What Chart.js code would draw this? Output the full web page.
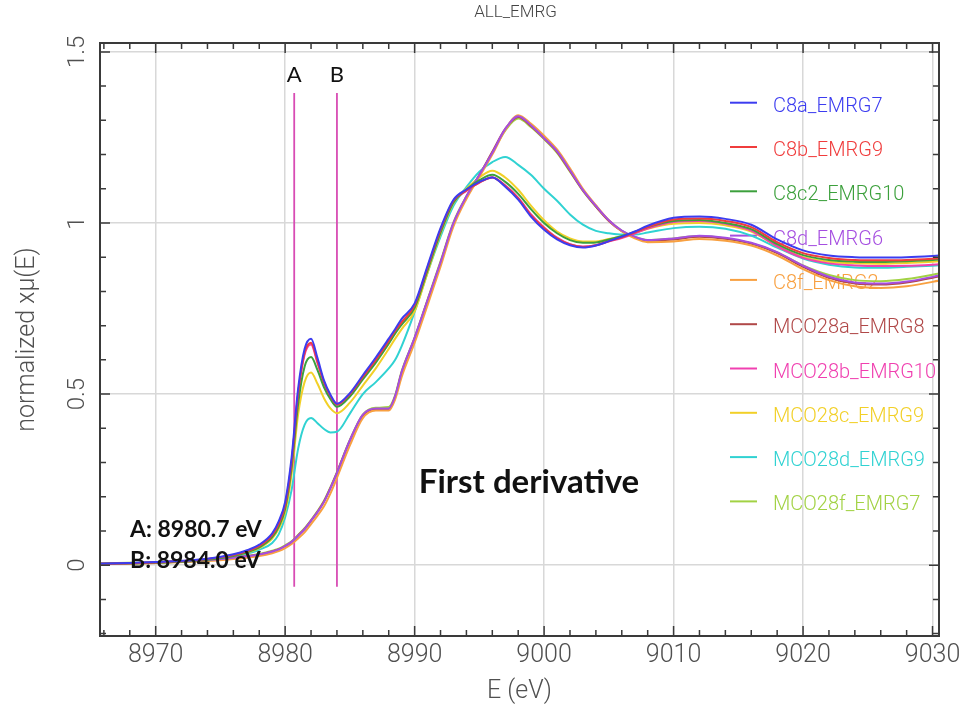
<!DOCTYPE html>
<html>
<head>
<meta charset="utf-8">
<title>ALL_EMRG</title>
<script src="https://cdn.jsdelivr.net/npm/chart.js@4.4.1/dist/chart.umd.min.js"></script>
<style>
  html, body { margin: 0; padding: 0; background: #fff; }
  #chart { display: block; }
</style>
</head>
<body>
<canvas id="chart" width="969" height="711"></canvas>
<script>
// energy grid (eV) shared by every spectrum
const energy = [8965.5, 8970, 8974, 8976, 8977, 8978, 8979, 8979.5, 8980, 8980.5,
  8981, 8981.5, 8982, 8982.5, 8983, 8983.5, 8984, 8985, 8986, 8987,
  8988, 8988.5, 8989, 8990, 8991, 8992, 8993, 8994, 8995, 8996,
  8997, 8998, 8999, 9000, 9001, 9002, 9003, 9004, 9005, 9006,
  9007, 9008, 9010, 9012, 9014, 9016, 9018, 9020, 9022, 9024,
  9026, 9028, 9031];

// normalized mu(E) per sample
const c8a = [0.004, 0.009, 0.019, 0.032, 0.043, 0.06, 0.093, 0.128, 0.185, 0.315,
  0.515, 0.632, 0.662, 0.605, 0.54, 0.498, 0.472, 0.503, 0.555, 0.607,
  0.662, 0.69, 0.72, 0.765, 0.875, 0.985, 1.068, 1.098, 1.12, 1.133,
  1.106, 1.068, 1.018, 0.98, 0.952, 0.935, 0.928, 0.934, 0.947, 0.96,
  0.975, 0.992, 1.015, 1.019, 1.012, 0.995, 0.952, 0.92, 0.905, 0.9,
  0.899, 0.9, 0.906];
const c8b = [0.004, 0.008, 0.018, 0.03, 0.04, 0.056, 0.088, 0.12, 0.175, 0.3,
  0.5, 0.62, 0.65, 0.595, 0.535, 0.495, 0.47, 0.5, 0.55, 0.6,
  0.655, 0.685, 0.71, 0.76, 0.87, 0.98, 1.065, 1.095, 1.118, 1.133,
  1.108, 1.072, 1.022, 0.985, 0.955, 0.937, 0.93, 0.935, 0.947, 0.958,
  0.972, 0.988, 1.01, 1.013, 1.006, 0.988, 0.944, 0.912, 0.898, 0.892,
  0.891, 0.892, 0.898];
const c8c2 = [0.004, 0.007, 0.016, 0.027, 0.037, 0.052, 0.082, 0.112, 0.165, 0.285,
  0.47, 0.58, 0.608, 0.57, 0.52, 0.485, 0.463, 0.493, 0.543, 0.592,
  0.647, 0.677, 0.703, 0.752, 0.862, 0.972, 1.06, 1.098, 1.125, 1.141,
  1.12, 1.085, 1.04, 1.0, 0.97, 0.95, 0.942, 0.943, 0.952, 0.962,
  0.974, 0.988, 1.006, 1.009, 1.0, 0.982, 0.938, 0.906, 0.892, 0.887,
  0.886, 0.888, 0.894];
const c8d = [0.004, 0.008, 0.015, 0.022, 0.026, 0.031, 0.04, 0.046, 0.056, 0.068,
  0.086, 0.105, 0.13, 0.155, 0.185, 0.225, 0.27, 0.365, 0.44, 0.458,
  0.458, 0.495, 0.565, 0.665, 0.775, 0.885, 1.0, 1.078, 1.14, 1.205,
  1.275, 1.312, 1.285, 1.248, 1.21, 1.154, 1.096, 1.05, 1.008, 0.978,
  0.96, 0.95, 0.955, 0.963, 0.957, 0.942, 0.915, 0.875, 0.843, 0.826,
  0.823, 0.829, 0.85];
const c8f = [0.003, 0.006, 0.012, 0.018, 0.022, 0.027, 0.035, 0.041, 0.05, 0.062,
  0.078, 0.096, 0.12, 0.145, 0.172, 0.21, 0.255, 0.35, 0.43, 0.452,
  0.452, 0.485, 0.55, 0.65, 0.76, 0.872, 0.99, 1.07, 1.135, 1.2,
  1.272, 1.315, 1.29, 1.255, 1.215, 1.16, 1.1, 1.052, 1.008, 0.976,
  0.955, 0.944, 0.946, 0.953, 0.948, 0.934, 0.905, 0.865, 0.833, 0.815,
  0.81, 0.815, 0.835];
const mco28a = [0.004, 0.008, 0.015, 0.022, 0.026, 0.031, 0.04, 0.046, 0.056, 0.068,
  0.087, 0.106, 0.13, 0.156, 0.186, 0.226, 0.27, 0.364, 0.438, 0.456,
  0.456, 0.493, 0.563, 0.663, 0.773, 0.883, 0.998, 1.076, 1.14, 1.208,
  1.275, 1.31, 1.283, 1.247, 1.208, 1.152, 1.095, 1.048, 1.006, 0.976,
  0.958, 0.948, 0.952, 0.96, 0.954, 0.94, 0.912, 0.872, 0.84, 0.823,
  0.82, 0.826, 0.847];
const mco28b = [0.004, 0.008, 0.018, 0.03, 0.041, 0.057, 0.09, 0.122, 0.178, 0.302,
  0.5, 0.615, 0.645, 0.59, 0.532, 0.492, 0.468, 0.498, 0.548, 0.597,
  0.652, 0.682, 0.708, 0.758, 0.868, 0.978, 1.062, 1.094, 1.118, 1.134,
  1.11, 1.074, 1.025, 0.987, 0.957, 0.938, 0.931, 0.935, 0.946, 0.956,
  0.969, 0.984, 1.003, 1.006, 0.998, 0.978, 0.932, 0.898, 0.882, 0.876,
  0.874, 0.875, 0.88];
const mco28c = [0.004, 0.007, 0.016, 0.027, 0.036, 0.05, 0.078, 0.106, 0.155, 0.265,
  0.44, 0.535, 0.563, 0.53, 0.488, 0.458, 0.444, 0.475, 0.525, 0.575,
  0.632, 0.662, 0.69, 0.742, 0.855, 0.968, 1.058, 1.1, 1.133, 1.153,
  1.133, 1.097, 1.05, 1.008, 0.975, 0.955, 0.946, 0.946, 0.953, 0.961,
  0.971, 0.983, 0.998, 1.0, 0.993, 0.975, 0.932, 0.9, 0.887, 0.882,
  0.881, 0.883, 0.889];
const mco28d = [0.005, 0.007, 0.015, 0.025, 0.033, 0.045, 0.065, 0.09, 0.14, 0.22,
  0.34, 0.41, 0.43, 0.415, 0.398, 0.388, 0.39, 0.443, 0.5, 0.535,
  0.575, 0.6, 0.64, 0.74, 0.855, 0.96, 1.05, 1.105, 1.15, 1.178,
  1.193, 1.17, 1.14, 1.1, 1.065, 1.025, 0.995, 0.977, 0.97, 0.966,
  0.966, 0.972, 0.985, 0.989, 0.983, 0.963, 0.928, 0.896, 0.878, 0.87,
  0.869, 0.872, 0.877];
const mco28f = [0.005, 0.009, 0.016, 0.023, 0.027, 0.033, 0.042, 0.048, 0.058, 0.07,
  0.088, 0.108, 0.132, 0.158, 0.188, 0.228, 0.272, 0.366, 0.44, 0.46,
  0.462, 0.497, 0.567, 0.665, 0.776, 0.888, 1.002, 1.078, 1.14, 1.205,
  1.27, 1.305, 1.28, 1.245, 1.205, 1.15, 1.094, 1.048, 1.007, 0.977,
  0.959, 0.95, 0.955, 0.962, 0.955, 0.94, 0.914, 0.876, 0.848, 0.833,
  0.83, 0.836, 0.856];

const seriesNames = ['C8a_EMRG7', 'C8b_EMRG9', 'C8c2_EMRG10', 'C8d_EMRG6', 'C8f_EMRG2',
  'MCO28a_EMRG8', 'MCO28b_EMRG10', 'MCO28c_EMRG9', 'MCO28d_EMRG9', 'MCO28f_EMRG7'];
const seriesValues = [c8a, c8b, c8c2, c8d, c8f, mco28a, mco28b, mco28c, mco28d, mco28f];
const seriesColors = ['#3c3cf0', '#f03c3c', '#3ca03c', '#a54ee0', '#f8a040',
  '#b04848', '#f040b0', '#f2d028', '#30d2d2', '#a2d244'];

// first-derivative maxima marked on the edge
const markerE = [8980.7, 8984.0];
const markerNames = ['A', 'B'];
const markerSpan = [-0.063, 1.38];

const xTicks = [8970, 8980, 8990, 9000, 9010, 9020, 9030];
const yTicks = [0, 0.5, 1, 1.5];

const X_MIN = 8965.7, X_MAX = 9030.5;
const Y_MIN = -0.207, Y_MAX = 1.526;

const AXIS_FONT = 'Roboto';
const axisGray = '#505050';

const datasets = seriesValues.map((vals, i) => ({
  label: seriesNames[i],
  data: energy.map((e, j) => ({ x: e, y: vals[j] })),
  borderColor: seriesColors[i],
  borderWidth: 2,
  pointRadius: 0,
  cubicInterpolationMode: 'monotone'
}));
markerE.forEach((e, i) => {
  datasets.push({
    label: markerNames[i],
    isMarker: true,
    data: markerSpan.map(v => ({ x: e, y: v })),
    borderColor: '#d84cb4',
    borderWidth: 1.8,
    pointRadius: 0,
    tension: 0
  });
});

// boxed frame with inward major/minor ticks on all four sides
const frameTicks = {
  id: 'frameTicks',
  afterDatasetsDraw(chart) {
    const { ctx, chartArea: a, scales: { x, y } } = chart;
    ctx.save();
    ctx.strokeStyle = '#3a3a3a';
    ctx.lineWidth = 1.5;
    ctx.beginPath();
    for (let v = 8966; v <= 9030; v += 2) {
      const px = x.getPixelForValue(v);
      const len = v % 10 === 0 ? 10 : 6;
      ctx.moveTo(px, a.top); ctx.lineTo(px, a.top + len);
      ctx.moveTo(px, a.bottom); ctx.lineTo(px, a.bottom - len);
    }
    for (let i = -2; i <= 15; i++) {
      const py = y.getPixelForValue(i / 10);
      const len = i % 5 === 0 ? 10 : 6;
      ctx.moveTo(a.left, py); ctx.lineTo(a.left + len, py);
      ctx.moveTo(a.right, py); ctx.lineTo(a.right - len, py);
    }
    ctx.stroke();
    ctx.lineWidth = 2;
    ctx.strokeRect(a.left, a.top, a.right - a.left, a.bottom - a.top);
    ctx.restore();
  }
};

// legend column on the right, drawn under the curves
const sideLegend = {
  id: 'sideLegend',
  beforeDatasetsDraw(chart) {
    const ctx = chart.ctx;
    ctx.save();
    ctx.font = `300 20px ${AXIS_FONT}`;
    ctx.textBaseline = 'middle';
    chart.data.datasets.filter(d => !d.isMarker).forEach((d, i) => {
      const yy = 102.7 + i * 44.3;
      ctx.strokeStyle = d.borderColor;
      ctx.lineWidth = 2;
      ctx.beginPath();
      ctx.moveTo(730, yy);
      ctx.lineTo(757, yy);
      ctx.stroke();
      ctx.fillStyle = d.borderColor;
      ctx.fillText(d.label, 773, yy + 4);
    });
    ctx.restore();
  }
};

// title, marker letters and the text notes
const notes = {
  id: 'notes',
  afterDraw(chart) {
    const { ctx, chartArea: a, scales: { x } } = chart;
    ctx.save();
    ctx.fillStyle = '#444';
    ctx.font = `300 17px ${AXIS_FONT}`;
    ctx.textAlign = 'center';
    ctx.textBaseline = 'middle';
    ctx.fillText('ALL_EMRG', (a.left + a.right) / 2 - 4, 13);

    ctx.fillStyle = '#111';
    ctx.font = '22px Lato';
    markerE.forEach((e, i) => {
      ctx.fillText(markerNames[i], x.getPixelForValue(e), 75);
    });

    ctx.textAlign = 'left';
    ctx.font = 'bold 23px Lato';
    markerE.forEach((e, i) => {
      ctx.fillText(`${markerNames[i]}: ${e.toFixed(1)} eV`, 130, 530 + i * 31);
    });

    ctx.textAlign = 'center';
    ctx.font = 'bold 33px Lato';
    ctx.fillText('First derivative', 529, 482);
    ctx.restore();
  }
};

const ctx = document.getElementById('chart').getContext('2d');
new Chart(ctx, {
  type: 'line',
  data: { datasets },
  plugins: [sideLegend, frameTicks, notes],
  options: {
    responsive: false,
    animation: false,
    devicePixelRatio: 1,
    layout: { padding: { top: 43, right: 30, left: 0, bottom: 0 } },
    plugins: {
      legend: { display: false },
      tooltip: { enabled: false },
      title: { display: false }
    },
    scales: {
      x: {
        type: 'linear',
        min: X_MIN,
        max: X_MAX,
        afterBuildTicks: s => { s.ticks = xTicks.map(v => ({ value: v })); },
        afterFit: s => { s.height = 75; },
        grid: { color: '#d8d8d8', lineWidth: 1.5, drawTicks: false },
        border: { display: false },
        ticks: {
          autoSkip: false, maxRotation: 0, padding: 5,
          color: axisGray,
          font: { family: AXIS_FONT, size: 25, weight: 300 },
          callback: v => String(v)
        },
        title: {
          display: true, text: 'E (eV)', color: axisGray,
          font: { family: AXIS_FONT, size: 25, weight: 300 },
          padding: { top: 0, bottom: 4 }
        }
      },
      y: {
        type: 'linear',
        min: Y_MIN,
        max: Y_MAX,
        afterBuildTicks: s => { s.ticks = yTicks.map(v => ({ value: v })); },
        afterFit: s => { s.width = 100; },
        grid: { color: '#d8d8d8', lineWidth: 1.5, drawTicks: false },
        border: { display: false },
        ticks: {
          minRotation: 90, maxRotation: 90, crossAlign: 'center', padding: 6,
          color: axisGray,
          font: { family: AXIS_FONT, size: 24, weight: 300 },
          callback: v => String(v)
        },
        title: {
          display: true, text: 'normalized xμ(E)', color: axisGray,
          font: { family: AXIS_FONT, size: 25, weight: 300 },
          padding: { top: 13, bottom: 0 }
        }
      }
    }
  }
});
</script>
</body>
</html>
